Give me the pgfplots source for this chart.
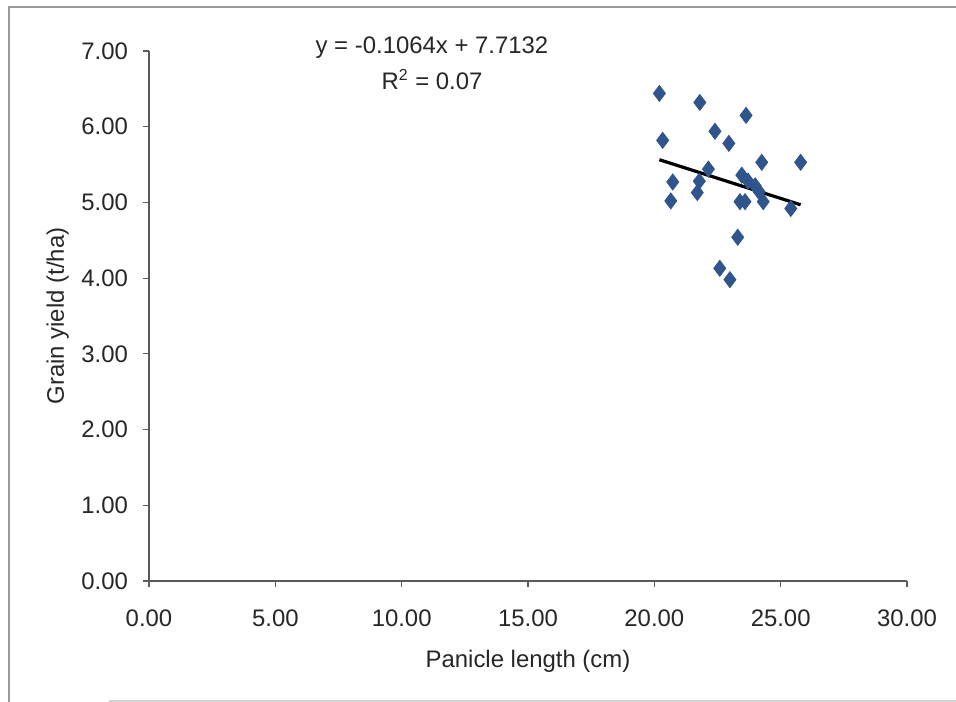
\documentclass[border=0pt]{standalone}
\usepackage{pgfplots}
\pgfplotsset{compat=1.18}
\usepackage{fontspec}
\setmainfont{Liberation Sans}
\definecolor{ptblue}{RGB}{47,85,140}
\definecolor{axgray}{RGB}{90,90,90}
\begin{document}
\begin{tikzpicture}
\useasboundingbox (-74.5bp,-60.5bp) rectangle (403.5bp,290.5bp);
\draw[gray!80, line width=0.8bp] (-70bp,-60.5bp) -- (-70bp,287bp) -- (403.5bp,287bp);
\draw[gray!35, line width=0.6bp] (-20bp,-60bp) -- (403.5bp,-60bp);
\begin{axis}[
  at={(0,0)}, anchor=south west,
  scale only axis, width=379bp, height=265bp,
  xmin=0, xmax=30, ymin=0, ymax=7,
  axis x line=bottom, axis y line=left,
  axis line style={-, axgray, line width=0.6bp},
  xtick={0,5,...,30}, ytick={0,1,...,7},
  tick align=outside, major tick length=3bp,
  tick style={axgray, line width=0.6bp},
  /pgf/number format/assume math mode=true,
  /pgf/number format/.cd, fixed, fixed zerofill, precision=2, /pgfplots/.cd,
  ticklabel style={font=\fontsize{12}{14}\selectfont, text=black!85},
  xticklabel style={yshift=-8bp},
  yticklabel style={xshift=-4bp},
  xlabel={Panicle length (cm)}, ylabel={Grain yield (t/ha)},
  label style={font=\fontsize{12}{14}\selectfont, text=black!85},
  xlabel style={yshift=-5bp},
  ylabel style={yshift=-0.5bp},
  clip=false,
]
\addplot[only marks, mark=diamond*, mark size=4bp, color=ptblue, mark options={draw=ptblue, fill=ptblue}] coordinates {
(20.20,6.44) (21.80,6.32) (23.63,6.15) (22.40,5.94) (22.95,5.78) (20.33,5.82)
(24.25,5.53) (25.79,5.53) (22.14,5.44) (20.73,5.27) (21.78,5.28) (21.70,5.13)
(20.65,5.02) (23.46,5.36) (23.71,5.28) (23.99,5.22) (24.15,5.14) (23.39,5.01)
(23.59,5.01) (24.31,5.01) (25.40,4.92) (23.30,4.54) (22.59,4.13) (22.99,3.98)
};
\addplot[black, line width=1.6bp] coordinates {(20.20,5.564) (25.79,4.969)};
\node[font=\fontsize{12}{14}\selectfont, text=black!85] at (axis cs:11.2,7.05) {y = -0.1064x + 7.7132};
\node[font=\fontsize{12}{14}\selectfont, text=black!85] at (axis cs:11.2,6.62) {R\textsuperscript{2} = 0.07};
\end{axis}
\end{tikzpicture}
\end{document}
